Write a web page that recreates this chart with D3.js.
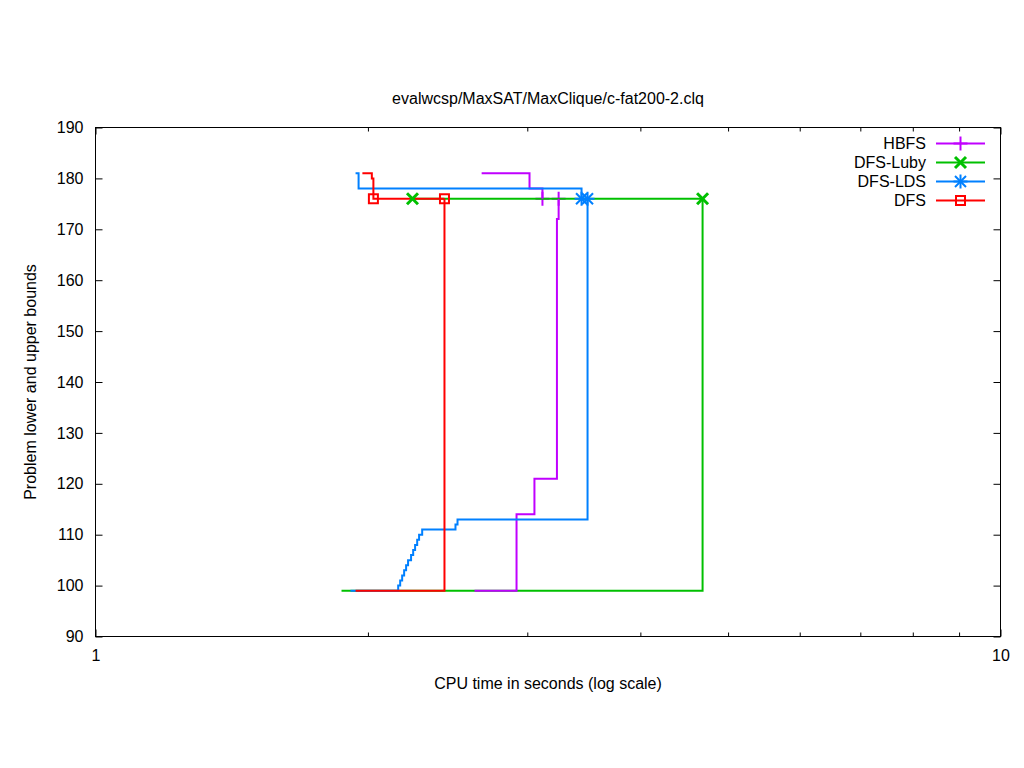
<!DOCTYPE html>
<html>
<head>
<meta charset="utf-8">
<script src="https://cdn.jsdelivr.net/npm/d3@7/dist/d3.min.js"></script>
<style>
  html, body { margin: 0; padding: 0; background: #fff; }
  svg { display: block; }
  text { font-family: "Liberation Sans", Arial, sans-serif; font-size: 16px; fill: #000; }
</style>
</head>
<body>
<svg id="chart" width="1024" height="768"></svg>
<script>
// ---------- data ----------
const title = "evalwcsp/MaxSAT/MaxClique/c-fat200-2.clq";
const xLabel = "CPU time in seconds (log scale)";
const yLabel = "Problem lower and upper bounds";
const seriesNames = ["HBFS", "DFS-Luby", "DFS-LDS", "DFS"];
const yTicks = [90, 100, 110, 120, 130, 140, 150, 160, 170, 180, 190];
const xMajorTicks = [1, 10];
const xMinorTicks = [2, 3, 4, 5, 6, 7, 8, 9];

// HBFS
const hbfsUpperTime  = [2.671, 3.017, 3.118];
const hbfsUpperValue = [181, 178, 176];
const hbfsLowerTime  = [2.623, 2.919, 3.055, 3.235, 3.249];
const hbfsLowerValue = [99, 114, 121, 172, 176];
const hbfsMarkTime   = [3.118, 3.249];
const hbfsMarkValue  = [176, 176];

// DFS-Luby
const lubyUpperTime  = [2.240, 4.686];
const lubyUpperValue = [176, 176];
const lubyLowerTime  = [1.870, 4.686];
const lubyLowerValue = [99, 176];
const lubyMarkTime   = [2.240, 4.686];
const lubyMarkValue  = [176, 176];

// DFS-LDS
const ldsUpperTime  = [1.938, 1.953, 3.444];
const ldsUpperValue = [181, 178, 176];
const ldsLowerTime  = [1.913, 2.160, 2.171, 2.182, 2.193, 2.204, 2.215, 2.232, 2.244, 2.255, 2.267, 2.278, 2.296, 2.499, 2.512, 3.497];
const ldsLowerValue = [99, 100, 101, 102, 103, 104, 105, 106, 107, 108, 109, 110, 111, 112, 113, 176];
const ldsMarkTime   = [3.444, 3.497];
const ldsMarkValue  = [176, 176];

// DFS
const dfsUpperTime  = [1.972, 2.020, 2.028, 2.430];
const dfsUpperValue = [181, 180, 176, 176];
const dfsLowerTime  = [1.938, 2.430];
const dfsLowerValue = [99, 176];
const dfsMarkTime   = [2.028, 2.430];
const dfsMarkValue  = [176, 176];

const colors = { "HBFS": "#c000ff", "DFS-Luby": "#00c000", "DFS-LDS": "#0080ff", "DFS": "#ff0000" };
const markers = { "HBFS": "plus", "DFS-Luby": "cross", "DFS-LDS": "star", "DFS": "square" };

const zip = (ts, vs) => ts.map((t, i) => [t, vs[i]]);
const series = [
  { name: "HBFS", upper: zip(hbfsUpperTime, hbfsUpperValue), lower: zip(hbfsLowerTime, hbfsLowerValue), marks: zip(hbfsMarkTime, hbfsMarkValue) },
  { name: "DFS-Luby", upper: zip(lubyUpperTime, lubyUpperValue), lower: zip(lubyLowerTime, lubyLowerValue), marks: zip(lubyMarkTime, lubyMarkValue) },
  { name: "DFS-LDS", upper: zip(ldsUpperTime, ldsUpperValue), lower: zip(ldsLowerTime, ldsLowerValue), marks: zip(ldsMarkTime, ldsMarkValue) },
  { name: "DFS", upper: zip(dfsUpperTime, dfsUpperValue), lower: zip(dfsLowerTime, dfsLowerValue), marks: zip(dfsMarkTime, dfsMarkValue) }
];
// drawing order of lines (as seen in the picture)
const drawOrder = ["DFS-Luby", "HBFS", "DFS-LDS", "DFS"];

// ---------- layout ----------
const L = 95.5, R = 1000.5, T = 127.5, B = 636.5;
const x = d3.scaleLog().domain([1, 10]).range([L, R]);
const y = d3.scaleLinear().domain([90, 190]).range([B, T]);

const svg = d3.select("#chart");

// title & labels
svg.append("text").attr("x", (L + R) / 2).attr("y", 104).attr("text-anchor", "middle").text(title);
svg.append("text").attr("x", (L + R) / 2).attr("y", 689).attr("text-anchor", "middle").text(xLabel);
svg.append("text").attr("transform", "translate(36,382) rotate(-90)").attr("text-anchor", "middle").text(yLabel);

// axes (ticks inward, mirrored)
const g = svg.append("g");
const yAxisL = d3.axisLeft(y).tickValues(yTicks).tickSizeInner(-7).tickSizeOuter(0).tickPadding(12);
const yAxisR = d3.axisRight(y).tickValues(yTicks).tickSizeInner(-7).tickSizeOuter(0).tickFormat("");
const xAxisB = d3.axisBottom(x).tickValues(xMajorTicks).tickSizeInner(-7).tickSizeOuter(0).tickPadding(13).tickFormat(d3.format("d"));
const xAxisT = d3.axisTop(x).tickValues(xMajorTicks).tickSizeInner(-7).tickSizeOuter(0).tickFormat("");
const xMinB = d3.axisBottom(x).tickValues(xMinorTicks).tickSizeInner(-4).tickSizeOuter(0).tickFormat("");
const xMinT = d3.axisTop(x).tickValues(xMinorTicks).tickSizeInner(-4).tickSizeOuter(0).tickFormat("");

function styleAxis(sel) {
  sel.select(".domain").remove();
  sel.selectAll("line").attr("stroke", "#000").attr("stroke-width", 1);
  sel.selectAll("text").attr("font-family", "Liberation Sans, Arial, sans-serif").attr("font-size", 16).attr("fill", "#000");
}
g.append("g").attr("transform", `translate(${L},0)`).call(yAxisL).call(styleAxis);
g.append("g").attr("transform", `translate(${R},0)`).call(yAxisR).call(styleAxis);
g.append("g").attr("transform", `translate(0,${B})`).call(xAxisB).call(styleAxis);
g.append("g").attr("transform", `translate(0,${T})`).call(xAxisT).call(styleAxis);
g.append("g").attr("transform", `translate(0,${B})`).call(xMinB).call(styleAxis);
g.append("g").attr("transform", `translate(0,${T})`).call(xMinT).call(styleAxis);

// frame
svg.append("rect").attr("x", L).attr("y", T).attr("width", R - L).attr("height", B - T)
  .attr("fill", "none").attr("stroke", "#000").attr("stroke-width", 1);

// marker drawing
function drawMarker(sel, type, cx, cy, color) {
  const gm = sel.append("g").attr("transform", `translate(${cx},${cy})`)
    .attr("stroke", color).attr("stroke-width", 2).attr("fill", "none");
  const p = 7, c = 5.5, sq = 4.5;
  if (type === "plus" || type === "star") {
    gm.append("line").attr("x1", -p).attr("x2", p).attr("y1", 0).attr("y2", 0);
    gm.append("line").attr("x1", 0).attr("x2", 0).attr("y1", -p).attr("y2", p);
  }
  if (type === "cross" || type === "star") {
    gm.append("line").attr("x1", -c).attr("x2", c).attr("y1", -c).attr("y2", c).attr("stroke-width", type === "cross" ? 3 : 2);
    gm.append("line").attr("x1", -c).attr("x2", c).attr("y1", c).attr("y2", -c).attr("stroke-width", type === "cross" ? 3 : 2);
  }
  if (type === "square") {
    gm.append("rect").attr("x", -sq).attr("y", -sq).attr("width", 2 * sq).attr("height", 2 * sq);
  }
}

// HBFS markers sit underneath the other lines in the picture
const underMarks = svg.append("g");
series.filter(s => s.name === "HBFS").forEach(s =>
  s.marks.forEach(d => drawMarker(underMarks, markers[s.name], x(d[0]), y(d[1]), colors[s.name])));

// lines
const line = d3.line().x(d => x(d[0])).y(d => y(d[1])).curve(d3.curveStepAfter);
const plot = svg.append("g");
drawOrder.forEach(name => {
  const s = series.find(d => d.name === name);
  [s.lower, s.upper].forEach(pts => {
    plot.append("path").attr("d", line(pts)).attr("fill", "none")
      .attr("stroke", colors[name]).attr("stroke-width", 2).attr("stroke-linejoin", "miter").attr("stroke-linecap", "butt");
  });
});

const marks = svg.append("g");
drawOrder.filter(n => n !== "HBFS").forEach(name => {
  const s = series.find(d => d.name === name);
  s.marks.forEach(d => drawMarker(marks, markers[name], x(d[0]), y(d[1]), colors[name]));
});

// legend
const legend = svg.append("g");
seriesNames.forEach((name, i) => {
  const ly = 143.5 + i * 19;
  legend.append("text").attr("x", 926).attr("y", ly + 5.5).attr("text-anchor", "end").text(name);
  legend.append("line").attr("x1", 936).attr("x2", 985).attr("y1", ly).attr("y2", ly)
    .attr("stroke", colors[name]).attr("stroke-width", 2);
  drawMarker(legend, markers[name], 960.5, ly, colors[name]);
});
</script>
</body>
</html>
